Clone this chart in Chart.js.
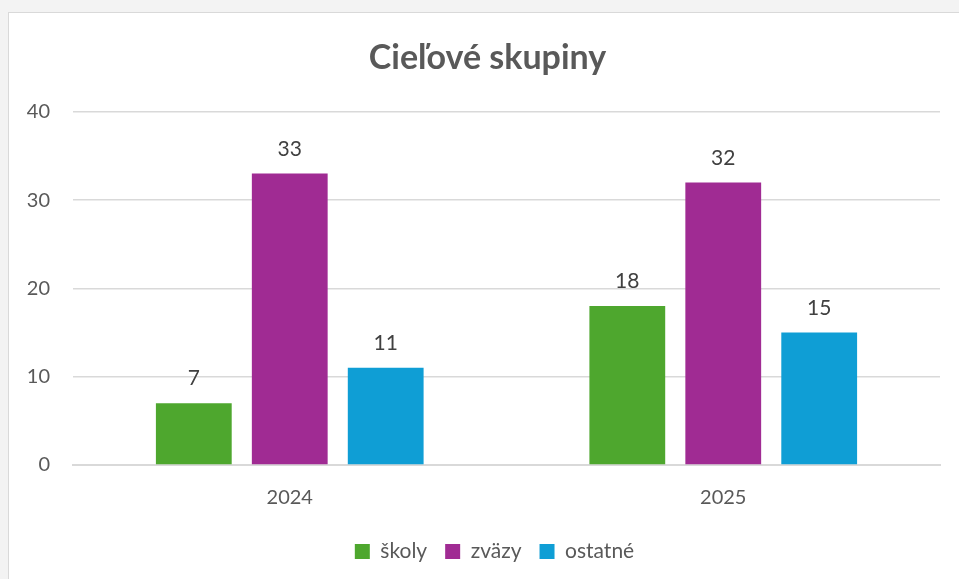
<!DOCTYPE html>
<html>
<head>
<meta charset="utf-8">
<script src="https://cdn.jsdelivr.net/npm/chart.js@4/dist/chart.umd.min.js"></script>
<style>
  html, body { margin: 0; padding: 0; background: #f3f3f3; overflow: hidden; }
  .frame {
    position: absolute; left: 8px; top: 12px; width: 960px; height: 580px;
    background: #fff; border: 1px solid #d9d9d9;
  }
  .chart-box { position: absolute; left: 0; top: 0; width: 950px; height: 566px; }
</style>
</head>
<body>
<div class="frame">
  <div class="chart-box"><canvas id="chart"></canvas></div>
</div>
<script>
// Cieľové skupiny
const years = ['2024', '2025'];
const skoly = [7, 18];
const zvazy = [33, 32];
const ostatne = [11, 15];
const yTicks = [0, 10, 20, 30, 40];

const textColor = '#595959';
const fontFamily = 'Lato, "Open Sans", sans-serif';

// values above bars
const valueLabels = {
  id: 'valueLabels',
  afterDatasetsDraw(chart) {
    const ctx = chart.ctx;
    ctx.save();
    ctx.fillStyle = '#404040';
    ctx.font = '21px ' + fontFamily;
    ctx.textAlign = 'center';
    ctx.textBaseline = 'bottom';
    chart.data.datasets.forEach((ds, i) => {
      chart.getDatasetMeta(i).data.forEach((bar, j) => {
        ctx.fillText(ds.data[j], bar.x, bar.y - 14);
      });
    });
    ctx.restore();
  }
};

// title and legend sit a little right of centre in the original
const nudgeBoxes = {
  id: 'nudgeBoxes',
  afterLayout(chart) {
    if (chart.titleBlock) { chart.titleBlock.left += 13; chart.titleBlock.right += 13; }
    if (chart.legend) { chart.legend.left += 20; chart.legend.right += 20; }
  }
};

new Chart(document.getElementById('chart'), {
  type: 'bar',
  data: {
    labels: years,
    datasets: [
      { label: 'školy', data: skoly, backgroundColor: '#4ea72e' },
      { label: 'zväzy', data: zvazy, backgroundColor: '#a02b93' },
      { label: 'ostatné', data: ostatne, backgroundColor: '#0f9ed5' }
    ]
  },
  options: {
    responsive: true,
    maintainAspectRatio: false,
    animation: false,
    categoryPercentage: 0.664,
    barPercentage: 0.79,
    layout: { padding: { left: 0, right: 19, top: 1, bottom: 7 } },
    plugins: {
      title: {
        display: true,
        text: 'Cieľové skupiny',
        color: textColor,
        font: { family: fontFamily, size: 34, weight: 'bold' },
        padding: { top: 24, bottom: 33 }
      },
      legend: {
        position: 'bottom',
        labels: {
          color: textColor,
          font: { family: fontFamily, size: 21 },
          boxWidth: 15,
          boxHeight: 15,
          padding: 18
        }
      },
      tooltip: { enabled: false }
    },
    scales: {
      x: {
        grid: { display: false },
        border: { color: '#d9d9d9', width: 2 },
        ticks: { color: textColor, font: { family: fontFamily, size: 20 }, padding: 13 }
      },
      y: {
        min: 0,
        max: 40,
        afterBuildTicks: (scale) => { scale.ticks = yTicks.map(v => ({ value: v })); },
        afterFit: (scale) => { scale.width = 64; },
        grid: { color: '#d9d9d9', lineWidth: 1.5, drawTicks: false },
        border: { display: false },
        ticks: { color: textColor, font: { family: fontFamily, size: 20 }, padding: 23 }
      }
    }
  },
  plugins: [valueLabels, nudgeBoxes]
});
</script>
</body>
</html>
